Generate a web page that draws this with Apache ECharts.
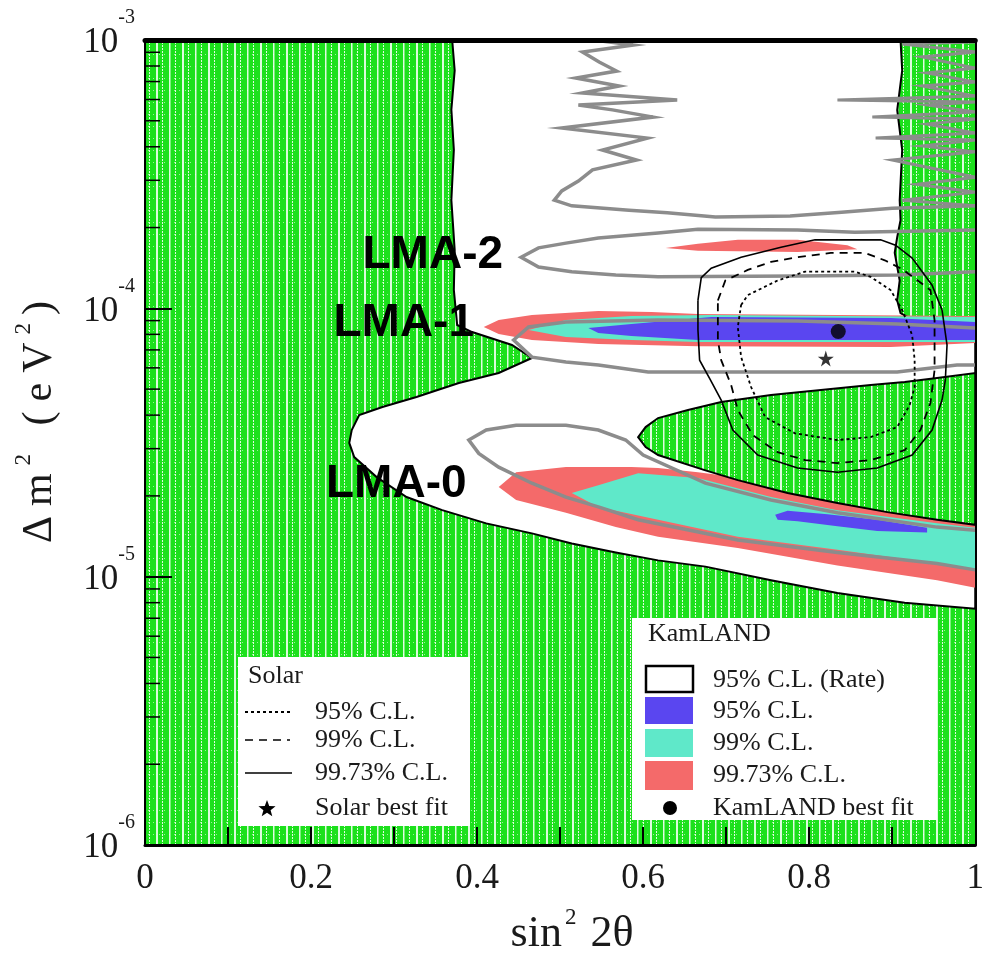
<!DOCTYPE html>
<html>
<head>
<meta charset="utf-8">
<script src="https://cdn.jsdelivr.net/npm/echarts@6/dist/echarts.min.js"></script>
<style>
html, body { margin: 0; padding: 0; background: #fff; }
#chart { width: 987px; height: 962px; }
</style>
</head>
<body>
<div id="chart"></div>
<script>
// ---- axis ticks ----------------------------------------------------------
const xTickValues = [0, 0.2, 0.4, 0.6, 0.8, 1];
const yMinorTicks = [2e-6, 3e-6, 4e-6, 5e-6, 6e-6, 7e-6, 8e-6, 9e-6,
                     2e-5, 3e-5, 4e-5, 5e-5, 6e-5, 7e-5, 8e-5, 9e-5,
                     2e-4, 3e-4, 4e-4, 5e-4, 6e-4, 7e-4, 8e-4, 9e-4];

// ---- KamLAND rate-only 95% C.L. allowed region: [sin^2 2theta, dm^2 (eV^2)]
const rateAllowed = [
  [0.370, 1.0e-3], [0.373, 7.7e-4], [0.369, 5.5e-4], [0.372, 3.9e-4], [0.369, 2.53e-4],
  [0.373, 1.65e-4], [0.372, 1.17e-4], [0.376, 8.67e-5], [0.394, 8.16e-5], [0.442, 7.30e-5],
  [0.466, 6.53e-5], [0.426, 5.74e-5], [0.378, 5.27e-5], [0.327, 4.67e-5], [0.286, 4.29e-5],
  [0.258, 4.0e-5], [0.249, 3.52e-5], [0.246, 3.15e-5], [0.252, 2.79e-5], [0.279, 2.35e-5],
  [0.315, 1.98e-5], [0.358, 1.77e-5], [0.411, 1.58e-5], [0.466, 1.45e-5], [0.514, 1.33e-5],
  [0.567, 1.23e-5], [0.618, 1.15e-5], [0.675, 1.09e-5], [0.754, 9.7e-6], [0.834, 8.7e-6],
  [0.915, 8.0e-6], [1.0, 7.6e-6],
  [1.0, 8.16e-5], [0.966, 8.45e-5], [0.946, 8.82e-5], [0.921, 9.2e-5], [0.910, 9.6e-5],
  [0.906, 1.07e-4], [0.909, 1.27e-4], [0.903, 1.61e-4], [0.906, 1.84e-4], [0.910, 2.13e-4],
  [0.909, 2.53e-4], [0.912, 3.89e-4], [0.906, 5.49e-4], [0.912, 7.7e-4], [0.910, 1.0e-3]
];
// excluded island inside the allowed region
const rateIsland = [
  [0.594, 3.31e-5], [0.603, 3.61e-5], [0.618, 3.9e-5], [0.654, 4.18e-5], [0.694, 4.48e-5],
  [0.754, 4.75e-5], [0.814, 4.96e-5], [0.874, 5.18e-5], [0.915, 5.31e-5], [0.954, 5.50e-5],
  [1.0, 5.74e-5], [1.0, 1.56e-5], [0.954, 1.63e-5], [0.894, 1.74e-5], [0.834, 1.88e-5],
  [0.774, 2.05e-5], [0.714, 2.29e-5], [0.675, 2.49e-5], [0.618, 2.84e-5], [0.603, 3.04e-5]
];

// ---- KamLAND rate + shape regions ----------------------------------------
const kl9973Lma2 = [[0.627, 1.68e-4], [0.666, 1.74e-4], [0.714, 1.80e-4], [0.786, 1.80e-4],
  [0.846, 1.72e-4], [0.858, 1.66e-4], [0.786, 1.62e-4], [0.666, 1.64e-4]];
const kl9973Lma1 = [[0.408, 8.52e-5], [0.426, 9.04e-5], [0.466, 9.44e-5], [0.546, 9.77e-5],
  [0.610, 9.69e-5], [0.666, 9.52e-5], [1.0, 9.36e-5], [1.0, 7.43e-5], [0.898, 7.17e-5],
  [0.666, 7.23e-5], [0.546, 7.36e-5], [0.466, 7.62e-5], [0.426, 8.02e-5]];
const kl99Lma1 = [[0.462, 8.3e-5], [0.507, 9.04e-5], [0.586, 9.36e-5], [0.682, 9.44e-5],
  [1.0, 9.29e-5], [1.0, 7.49e-5], [0.786, 7.49e-5], [0.666, 7.49e-5], [0.586, 7.62e-5],
  [0.507, 7.82e-5]];
const kl95Lma1 = [[0.534, 8.45e-5], [0.586, 8.74e-5], [0.682, 9.29e-5], [0.898, 9.2e-5],
  [1.0, 8.89e-5], [1.0, 7.62e-5], [0.786, 7.62e-5], [0.666, 7.62e-5], [0.586, 7.89e-5],
  [0.546, 8.09e-5]];
const kl9973Lma0 = [[0.426, 2.16e-5], [0.447, 2.45e-5], [0.507, 2.56e-5], [0.586, 2.56e-5],
  [0.618, 2.54e-5], [0.666, 2.45e-5], [0.738, 2.29e-5], [0.834, 2.01e-5], [0.954, 1.77e-5],
  [1.0, 1.70e-5], [1.0, 9.1e-6], [0.954, 9.7e-6], [0.834, 1.10e-5], [0.714, 1.28e-5],
  [0.618, 1.41e-5], [0.567, 1.53e-5], [0.507, 1.73e-5], [0.447, 1.93e-5]];
const kl99Lma0 = [[0.514, 2.05e-5], [0.546, 2.19e-5], [0.594, 2.43e-5], [0.666, 2.33e-5],
  [0.754, 1.98e-5], [0.834, 1.77e-5], [0.954, 1.58e-5], [1.0, 1.52e-5], [1.0, 1.06e-5],
  [0.954, 1.12e-5], [0.834, 1.26e-5], [0.714, 1.41e-5], [0.618, 1.63e-5], [0.546, 1.82e-5]];
const kl95Lma0 = [[0.759, 1.70e-5], [0.774, 1.76e-5], [0.822, 1.71e-5], [0.882, 1.63e-5],
  [0.942, 1.52e-5], [0.942, 1.46e-5], [0.882, 1.48e-5], [0.834, 1.54e-5], [0.786, 1.61e-5],
  [0.762, 1.63e-5]];

// ---- grey contours --------------------------------------------------------
const greyLma2Upper = [[0.540, 1.0e-3], [0.588, 9.58e-4], [0.527, 9.02e-4], [0.547, 8.28e-4],
  [0.568, 7.66e-4], [0.519, 7.22e-4], [0.571, 6.74e-4], [0.527, 6.35e-4], [0.641, 5.98e-4],
  [0.522, 5.73e-4], [0.563, 5.49e-4], [0.612, 5.16e-4], [0.502, 4.70e-4], [0.605, 4.31e-4],
  [0.551, 3.89e-4], [0.592, 3.57e-4], [0.539, 3.28e-4], [0.522, 2.98e-4], [0.502, 2.74e-4],
  [0.493, 2.53e-4], [0.514, 2.41e-4], [0.583, 2.32e-4], [0.629, 2.27e-4], [0.687, 2.19e-4],
  [0.777, 2.21e-4], [0.839, 2.28e-4], [0.900, 2.36e-4], [1.0, 2.41e-4]];
const greyLma2Right = [[1.0, 2.41e-4], [0.912, 2.53e-4], [1.0, 2.71e-4], [0.930, 2.90e-4],
  [1.0, 3.08e-4], [0.900, 3.57e-4], [1.0, 3.83e-4], [0.936, 4.03e-4], [1.0, 4.24e-4],
  [0.880, 4.31e-4], [1.0, 4.50e-4], [0.942, 4.86e-4], [1.0, 5.08e-4], [0.876, 5.16e-4],
  [1.0, 5.39e-4], [0.942, 5.73e-4], [1.0, 5.87e-4], [0.834, 5.98e-4], [1.0, 6.18e-4],
  [0.936, 6.74e-4], [1.0, 6.97e-4], [0.942, 7.54e-4], [1.0, 7.86e-4], [0.936, 8.65e-4],
  [1.0, 9.02e-4], [0.912, 9.66e-4], [1.0, 9.83e-4]];
const greyLma2 = [[1.0, 1.96e-4], [0.855, 1.92e-4], [0.786, 1.96e-4], [0.666, 1.97e-4],
  [0.618, 1.91e-4], [0.546, 1.83e-4], [0.507, 1.75e-4], [0.474, 1.68e-4], [0.453, 1.55e-4],
  [0.474, 1.425e-4], [0.514, 1.37e-4], [0.567, 1.33e-4], [0.618, 1.31e-4], [0.786, 1.32e-4],
  [0.906, 1.33e-4], [1.0, 1.37e-4]];
const greyLma1 = [[1.0, 8.45e-5], [0.906, 8.74e-5], [0.786, 8.97e-5], [0.618, 9.04e-5],
  [0.507, 8.89e-5], [0.462, 8.52e-5], [0.444, 7.62e-5], [0.466, 6.58e-5], [0.507, 6.31e-5],
  [0.546, 6.15e-5], [0.606, 5.79e-5], [0.906, 5.79e-5], [0.978, 6.15e-5], [1.0, 6.15e-5]];
const greyLma0 = [[1.0, 1.49e-5], [0.954, 1.53e-5], [0.834, 1.73e-5], [0.754, 1.93e-5],
  [0.675, 2.23e-5], [0.600, 2.84e-5], [0.579, 3.23e-5], [0.546, 3.52e-5], [0.507, 3.67e-5],
  [0.447, 3.67e-5], [0.411, 3.52e-5], [0.390, 3.23e-5], [0.402, 2.88e-5], [0.426, 2.56e-5],
  [0.466, 2.23e-5], [0.507, 1.98e-5], [0.546, 1.82e-5], [0.594, 1.63e-5], [0.714, 1.37e-5],
  [0.834, 1.23e-5], [0.954, 1.12e-5], [1.0, 1.06e-5]];

// ---- solar contours -------------------------------------------------------
const solar9973 = [[0.666, 1.07e-4], [0.670, 1.30e-4], [0.682, 1.41e-4], [0.718, 1.55e-4],
  [0.766, 1.69e-4], [0.807, 1.80e-4], [0.886, 1.80e-4], [0.904, 1.72e-4], [0.924, 1.54e-4],
  [0.948, 1.22e-4], [0.960, 9.86e-5], [0.966, 7.30e-5], [0.964, 5.41e-5], [0.960, 4.55e-5],
  [0.948, 3.52e-5], [0.924, 2.84e-5], [0.882, 2.54e-5], [0.834, 2.45e-5], [0.786, 2.54e-5],
  [0.738, 2.84e-5], [0.708, 3.52e-5], [0.694, 4.55e-5], [0.681, 5.41e-5], [0.668, 6.41e-5],
  [0.666, 8.30e-5], [0.666, 1.07e-4]];
const solar99 = [[0.690, 1.07e-4], [0.699, 1.27e-4], [0.726, 1.39e-4], [0.754, 1.49e-4],
  [0.786, 1.55e-4], [0.826, 1.61e-4], [0.867, 1.61e-4], [0.891, 1.51e-4], [0.912, 1.40e-4],
  [0.946, 1.17e-4], [0.951, 9.04e-5], [0.951, 5.89e-5], [0.946, 4.44e-5], [0.934, 3.52e-5],
  [0.915, 2.96e-5], [0.874, 2.72e-5], [0.834, 2.65e-5], [0.795, 2.72e-5], [0.762, 2.91e-5],
  [0.732, 3.37e-5], [0.714, 4.18e-5], [0.706, 5.18e-5], [0.694, 6.41e-5], [0.690, 7.62e-5],
  [0.690, 1.07e-4]];
const solar95 = [[0.718, 1.03e-4], [0.726, 1.12e-4], [0.762, 1.27e-4], [0.795, 1.37e-4],
  [0.855, 1.37e-4], [0.874, 1.31e-4], [0.898, 1.17e-4], [0.912, 9.86e-5], [0.924, 7.95e-5],
  [0.927, 6.41e-5], [0.927, 5.09e-5], [0.921, 4.36e-5], [0.906, 3.61e-5], [0.874, 3.31e-5],
  [0.834, 3.23e-5], [0.783, 3.42e-5], [0.747, 3.93e-5], [0.730, 5.09e-5], [0.718, 6.58e-5],
  [0.714, 8.52e-5], [0.718, 1.03e-4]];

// ---- best-fit points ------------------------------------------------------
const solarBest = [0.82, 6.5e-5];
const kamlandBest = [0.835, 8.2e-5];

// ---- region labels [text, sin^2 2theta, dm^2] -----------------------------
const regionLabels = [['LMA-2', 0.262, 1.58e-4], ['LMA-1', 0.227, 8.8e-5], ['LMA-0', 0.218, 2.2e-5]];

// ---------------------------------------------------------------------------
const GREEN = 'rgb(28,224,28)';
const BLUE = '#5a46f0';
const CYAN = '#5fe8c9';
const RED = '#f46a6a';
const GREY = '#8c8c8c';
const INK = '#1a1a1a';
const SERIF = '"Liberation Serif", "Times New Roman", serif';
const SANS = '"Liberation Sans", Arial, sans-serif';
const STAR_PATH = 'path://M50,0 L61,35 L98,35 L68,57 L79,91 L50,70 L21,91 L32,57 L2,35 L39,35 Z';

function makeHatch() {
  const c = document.createElement('canvas');
  c.width = 26; c.height = 12;
  const g = c.getContext('2d');
  g.fillStyle = GREEN; g.fillRect(0, 0, 26, 12);
  g.fillStyle = 'rgba(255,255,255,0.85)';
  g.fillRect(0, 0, 2, 12);
  g.fillRect(13, 0, 1.5, 12);
  for (let y = 0; y < 12; y += 3) { g.fillRect(6, y, 1, 2); g.fillRect(19, y, 1, 2); }
  g.fillStyle = 'rgba(255,255,255,0.55)';
  for (let x = 3; x < 26; x += 5) g.fillRect(x, 6, 1, 1);
  return c;
}
const hatch = { image: makeHatch(), repeat: 'repeat' };

function shape(points, style, closed, z) {
  return {
    type: 'custom', coordinateSystem: 'cartesian2d', xAxisIndex: 0, yAxisIndex: 0,
    silent: true, clip: true, z: z,
    data: [points[0]],
    renderItem: function (params, api) {
      return {
        type: closed ? 'polygon' : 'polyline',
        shape: { points: points.map(function (p) { return api.coord(p); }) },
        style: style
      };
    }
  };
}

// the whole frame is excluded unless inside the allowed contour
const frameCorners = [[0, 1e-6], [1, 1e-6], [1, 1e-3], [0, 1e-3]];

const series = [
  shape(frameCorners, { fill: hatch, stroke: null }, true, 1),
  shape(rateAllowed, { fill: '#fff', stroke: '#000', lineWidth: 2 }, true, 2),
  shape(kl9973Lma2, { fill: RED, stroke: null }, true, 3),
  shape(kl9973Lma1, { fill: RED, stroke: null }, true, 3),
  shape(kl9973Lma0, { fill: RED, stroke: null }, true, 3),
  shape(kl99Lma1, { fill: CYAN, stroke: null }, true, 4),
  shape(kl99Lma0, { fill: CYAN, stroke: null }, true, 4),
  shape(kl95Lma1, { fill: BLUE, stroke: null }, true, 5),
  shape(kl95Lma0, { fill: BLUE, stroke: null }, true, 5),
  shape(rateIsland, { fill: hatch, stroke: '#000', lineWidth: 2 }, true, 6),
  shape(greyLma2Upper, { fill: 'none', stroke: GREY, lineWidth: 3.5 }, false, 7),
  shape(greyLma2Right, { fill: 'none', stroke: GREY, lineWidth: 3 }, false, 7),
  shape(greyLma2, { fill: 'none', stroke: GREY, lineWidth: 3.5 }, false, 7),
  shape(greyLma1, { fill: 'none', stroke: GREY, lineWidth: 3.5 }, false, 7),
  shape(greyLma0, { fill: 'none', stroke: GREY, lineWidth: 3.5 }, false, 7),
  shape(solar9973, { fill: 'none', stroke: '#000', lineWidth: 1.6 }, false, 8),
  shape(solar99, { fill: 'none', stroke: '#000', lineWidth: 1.8, lineDash: [8, 6] }, false, 8),
  shape(solar95, { fill: 'none', stroke: '#000', lineWidth: 1.8, lineDash: [3, 3] }, false, 8),
  {
    type: 'scatter', xAxisIndex: 0, yAxisIndex: 0, z: 9, silent: true,
    symbol: STAR_PATH, symbolSize: 16, itemStyle: { color: '#000' }, data: [solarBest]
  },
  {
    type: 'scatter', xAxisIndex: 0, yAxisIndex: 0, z: 9, silent: true,
    symbol: 'circle', symbolSize: 15, itemStyle: { color: '#000' }, data: [kamlandBest]
  },
  {
    // LMA region names
    type: 'custom', coordinateSystem: 'cartesian2d', xAxisIndex: 0, yAxisIndex: 0,
    silent: true, clip: false, z: 12,
    data: regionLabels.map(function (r) { return [r[1], r[2]]; }),
    renderItem: function (params, api) {
      const p = api.coord([api.value(0), api.value(1)]);
      return { type: 'text', x: p[0], y: p[1],
               style: { text: regionLabels[params.dataIndex][0], font: 'bold 46px ' + SANS,
                        fill: '#000', align: 'left', verticalAlign: 'middle' } };
    }
  },
  {
    // minor ticks of the log axis
    type: 'custom', coordinateSystem: 'cartesian2d', xAxisIndex: 0, yAxisIndex: 0,
    silent: true, clip: false, z: 20,
    data: yMinorTicks.map(function (v) { return [0, v]; }),
    renderItem: function (params, api) {
      const p = api.coord([0, api.value(1)]);
      return { type: 'line', shape: { x1: p[0], y1: p[1], x2: p[0] + 15, y2: p[1] },
               style: { stroke: '#000', lineWidth: 1.5 } };
    }
  }
];

// five-point star outline for the legend icon
function starPoints(cx, cy, r) {
  const pts = [];
  for (let i = 0; i < 10; i++) {
    const rr = i % 2 === 0 ? r : r * 0.42;
    const a = -Math.PI / 2 + i * Math.PI / 5;
    pts.push([cx + rr * Math.cos(a), cy + rr * Math.sin(a)]);
  }
  return pts;
}

const legendText = function (x, y, t) {
  return { type: 'text', x: x, y: y, z: 101,
           style: { text: t, font: '26px ' + SERIF, fill: INK, textVerticalAlign: 'middle', verticalAlign: 'middle' } };
};

// title text: each glyph is its own rich token so spacing can be tuned
function spaced(chars) {
  return chars.map(function (c) { return c[1] === 'sup' ? '{s|' + c[0] + '}' : '{c|' + c[0] + '}'; }).join('');
}
const titleRich = function (size, pad) {
  return {
    c: { fontSize: size, fontFamily: SERIF, padding: [0, pad, 0, pad], fill: INK },
    s: { fontSize: 23, fontFamily: SERIF, verticalAlign: 'top', padding: [0, 3, 32, 3], fill: INK }
  };
};

const graphics = [
  { type: 'rect', z: 100, shape: { x: 238, y: 657, width: 232, height: 169 }, style: { fill: '#fff' } },
  legendText(248, 676, 'Solar'),
  { type: 'line', z: 101, shape: { x1: 245, y1: 712, x2: 290, y2: 712 }, style: { stroke: '#000', lineWidth: 2, lineDash: [3, 3] } },
  legendText(315, 712, '95% C.L.'),
  { type: 'line', z: 101, shape: { x1: 245, y1: 740, x2: 290, y2: 740 }, style: { stroke: '#000', lineWidth: 1.5, lineDash: [8, 6] } },
  legendText(315, 740, '99% C.L.'),
  { type: 'line', z: 101, shape: { x1: 245, y1: 773, x2: 292, y2: 773 }, style: { stroke: '#000', lineWidth: 1.5 } },
  legendText(315, 773, '99.73% C.L.'),
  { type: 'polygon', z: 101, shape: { points: starPoints(267, 809, 9) }, style: { fill: '#000' } },
  legendText(315, 808, 'Solar best fit'),

  { type: 'rect', z: 100, shape: { x: 632, y: 618, width: 305, height: 202 }, style: { fill: '#fff' } },
  legendText(648, 634, 'KamLAND'),
  { type: 'rect', z: 101, shape: { x: 646, y: 666, width: 47, height: 26 }, style: { fill: '#fff', stroke: '#000', lineWidth: 2.5 } },
  legendText(713, 680, '95% C.L. (Rate)'),
  { type: 'rect', z: 101, shape: { x: 645, y: 697, width: 48, height: 27 }, style: { fill: BLUE } },
  legendText(713, 711, '95% C.L.'),
  { type: 'rect', z: 101, shape: { x: 645, y: 729, width: 48, height: 28 }, style: { fill: CYAN } },
  legendText(713, 743, '99% C.L.'),
  { type: 'rect', z: 101, shape: { x: 645, y: 761, width: 48, height: 29 }, style: { fill: RED } },
  legendText(713, 775, '99.73% C.L.'),
  { type: 'circle', z: 101, shape: { cx: 670, cy: 808, r: 7 }, style: { fill: '#000' } },
  legendText(713, 808, 'KamLAND best fit'),

  // axis titles
  { type: 'text', z: 101, x: 572, y: 934,
    style: { text: spaced([['s'], ['i'], ['n'], ['2', 'sup'], [' '], ['2'], ['θ']]),
             font: '44px ' + SERIF, fill: INK,
             align: 'center', verticalAlign: 'middle', rich: titleRich(44, 0) } },
  { type: 'text', z: 101, x: 40, y: 422, rotation: Math.PI / 2,
    style: { text: spaced([['Δ'], ['m'], ['2', 'sup'], [' '], ['('], ['e'], ['V'], ['2', 'sup'], [')']]),
             font: '42px ' + SERIF, fill: INK,
             align: 'center', verticalAlign: 'middle', rich: titleRich(42, 5) } }
];

const option = {
  backgroundColor: '#fff',
  animation: false,
  textStyle: { fontFamily: SERIF },
  grid: { left: 145, right: 9, top: 40, bottom: 117, containLabel: false },
  xAxis: [
    {
      type: 'value', min: xTickValues[0], max: xTickValues[xTickValues.length - 1], interval: 0.2,
      position: 'bottom', z: 20,
      axisLine: { show: true, onZero: false, lineStyle: { color: '#000', width: 3 } },
      axisTick: { show: true, inside: true, length: 18, lineStyle: { color: '#000', width: 2 } },
      minorTick: { show: true, splitNumber: 2, length: 18, lineStyle: { color: '#000', width: 2 } },
      axisLabel: { margin: 16, fontSize: 35, fontFamily: SERIF, color: INK },
      splitLine: { show: false }
    },
    {
      type: 'value', min: 0, max: 1, position: 'top', z: 20,
      axisLine: { show: true, onZero: false, lineStyle: { color: '#000', width: 5 } },
      axisTick: { show: false }, axisLabel: { show: false }, splitLine: { show: false }
    }
  ],
  yAxis: [
    {
      type: 'log', logBase: 10, min: 1e-6, max: 1e-3, position: 'left', z: 20,
      axisLine: { show: true, onZero: false, lineStyle: { color: '#000', width: 2 } },
      axisTick: { show: true, inside: true, length: 27, lineStyle: { color: '#000', width: 2 } },
      axisLabel: {
        margin: 10, color: INK,
        formatter: function (v) { return '{b|10}{e|' + Math.round(Math.log10(v)) + '}'; },
        rich: {
          b: { fontSize: 35, fontFamily: SERIF, color: INK, padding: [6, 0, 0, 0] },
          e: { fontSize: 20, fontFamily: SERIF, color: INK, verticalAlign: 'top', padding: [2, 0, 46, 0] }
        }
      },
      splitLine: { show: false }
    },
    {
      type: 'log', logBase: 10, min: 1e-6, max: 1e-3, position: 'right', z: 20,
      axisLine: { show: true, onZero: false, lineStyle: { color: '#000', width: 2 } },
      axisTick: { show: false }, axisLabel: { show: false }, splitLine: { show: false }
    }
  ],
  graphic: { elements: graphics },
  series: series
};

const chart = echarts.init(document.getElementById('chart'));
chart.setOption(option);
</script>
</body>
</html>
